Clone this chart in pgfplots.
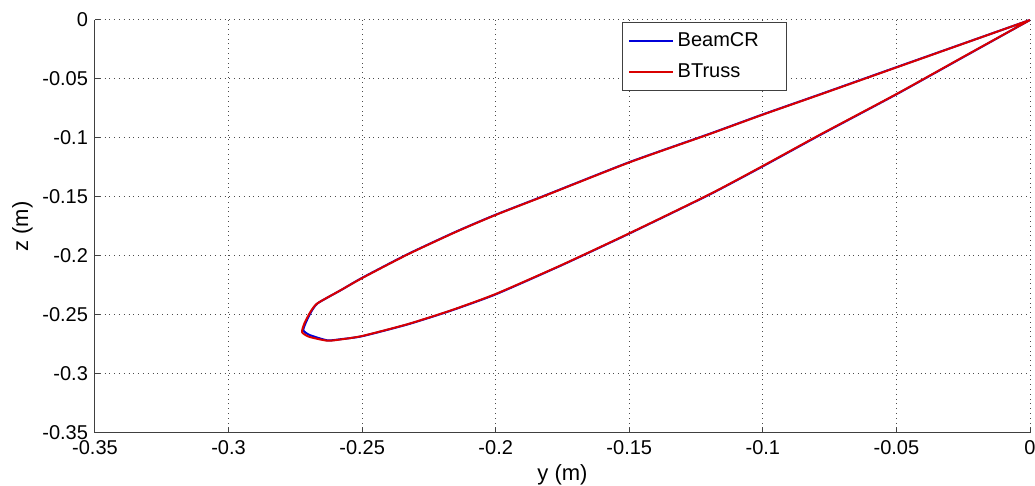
\documentclass[border=0pt]{standalone}
\usepackage{fontspec}
\setmainfont{Liberation Sans}
\usepackage{pgfplots}
\pgfplotsset{compat=1.18}
\begin{document}
\begin{tikzpicture}
\useasboundingbox (-47.5pt,-26.5pt) rectangle (470pt,216.5pt);
\begin{axis}[
  at={(0,0)}, anchor=south west,
  scale only axis, width=467.5pt, height=206.5pt,
  xmin=-0.35, xmax=0, ymin=-0.35, ymax=0,
  xtick={-0.35,-0.3,-0.25,-0.2,-0.15,-0.1,-0.05,0},
  ytick={-0.35,-0.3,-0.25,-0.2,-0.15,-0.1,-0.05,0},
  /pgf/number format/assume math mode=true,
  /pgf/number format/fixed, /pgf/number format/precision=2,
  axis x line=bottom, axis y line=left,
  axis line style={-, black!75, line width=0.5pt},
  tick align=inside, major tick length=2.5pt,
  tick style={black!75, line width=0.5pt},
  grid=major, major grid style={dotted, black!70, line width=0.5pt},
  tick label style={font=\fontsize{10}{12}\selectfont},
  label style={font=\fontsize{11}{13}\selectfont},
  xlabel={y (m)}, ylabel={z (m)},
  xlabel style={yshift=1.5pt},
  ylabel style={yshift=-2pt},
  legend style={at={(0.5636,0.995)}, anchor=north west, draw=black!75,
    line width=0.5pt, font=\fontsize{10}{12}\selectfont,
    cells={anchor=west}, inner xsep=3pt, inner ysep=3pt, row sep=3pt},
  legend image code/.code={\draw[#1] (0cm,0cm) -- (0.76cm,0cm);},
]
\addplot[blue!85!black, line width=1pt, smooth, tension=0.35] coordinates {
(0,0) (-0.025,-0.0315) (-0.05,-0.063) (-0.0786,-0.0975) (-0.1,-0.124)
(-0.12,-0.148) (-0.15,-0.181) (-0.175,-0.2075) (-0.2,-0.2325) (-0.217,-0.2465)
(-0.233,-0.258) (-0.25,-0.268) (-0.258,-0.2705) (-0.263,-0.2715) (-0.2696,-0.267)
(-0.272,-0.263) (-0.271,-0.256) (-0.269,-0.247) (-0.2666,-0.240) (-0.258,-0.229)
(-0.25,-0.2185) (-0.233,-0.1985) (-0.215,-0.1795) (-0.2,-0.165) (-0.183,-0.150)
(-0.15,-0.1205) (-0.12,-0.0965) (-0.1,-0.080) (-0.0786,-0.063) (-0.05,-0.040)
(-0.025,-0.020) (0,0)
};
\addlegendentry{BeamCR\hspace{9pt}\mbox{}}
\addplot[red!85!black, line width=1pt, smooth, tension=0.35] coordinates {
(0,0) (-0.025,-0.0313) (-0.05,-0.0628) (-0.0786,-0.0972) (-0.1,-0.1237)
(-0.12,-0.1478) (-0.15,-0.1808) (-0.175,-0.2073) (-0.2,-0.2322) (-0.217,-0.2463)
(-0.233,-0.2578) (-0.25,-0.2678) (-0.258,-0.2707) (-0.263,-0.2718) (-0.2698,-0.2685)
(-0.2725,-0.2645) (-0.2715,-0.2565) (-0.2693,-0.2472) (-0.2668,-0.2402) (-0.2582,-0.2292)
(-0.25,-0.2187) (-0.233,-0.1987) (-0.215,-0.1797) (-0.2,-0.1652) (-0.183,-0.1502)
(-0.15,-0.1207) (-0.12,-0.0967) (-0.1,-0.0802) (-0.0786,-0.0632) (-0.05,-0.0402)
(-0.025,-0.0201) (0,0)
};
\addlegendentry{BTruss}
\end{axis}
\end{tikzpicture}
\end{document}
